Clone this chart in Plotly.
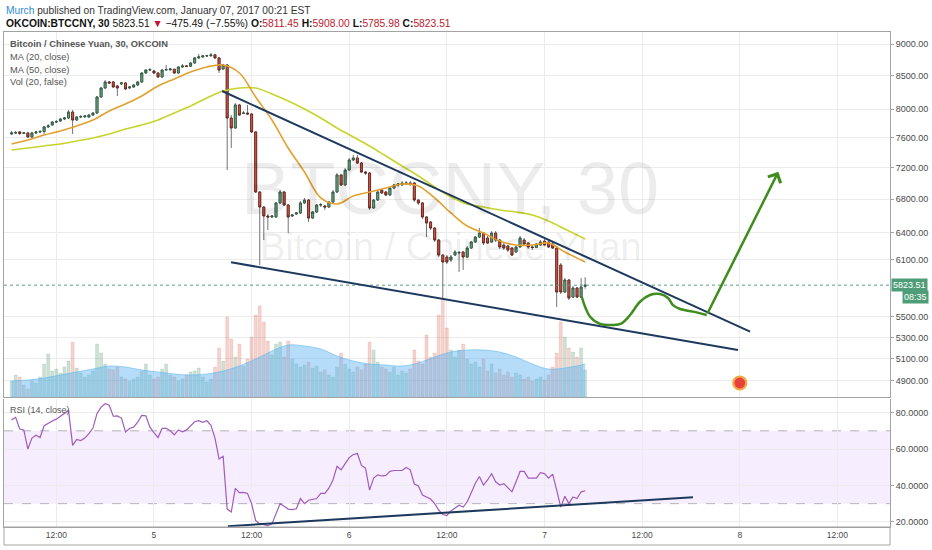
import math
import pandas as pd
import plotly.graph_objects as go

# ---------------- data ----------------
bar_start = "2017-01-04 06:30"
n_bars = 142
times = pd.date_range(bar_start, periods=n_bars, freq="30min")

opens = [7651,7665,7679,7660,7665,7610,7665,7679,7684,7748,
         7776,7818,7832,7860,7875,7960,7846,7889,7893,7889,
         7917,7946,8179,8313,8404,8404,8343,8374,8389,8313,
         8328,8358,8404,8541,8587,8572,8541,8480,8587,8592,
         8600,8541,8634,8650,8645,8697,8776,8792,8808,8812,
         8825,8776,8603,8665,7875,7734,8062,7940,7946,7932,
         7679,6890,6706,6598,6586,6586,6755,6890,6730,6598,
         6622,6634,6755,6791,6574,6646,6730,6718,6706,6767,
         6890,7105,6978,7169,7300,7326,7260,7143,7130,6694,
         6791,6915,6890,6853,6940,6978,6978,6991,7003,7003,
         6791,6755,6586,6527,6456,6318,6149,6127,6094,6149,
         6172,6183,6127,6227,6295,6352,6398,6341,6295,6398,
         6318,6261,6250,6227,6183,6239,6318,6284,6239,6234,
         6261,6306,6295,6272,6227,6039,5752,5878,5700,5794,
         5700,5811.45]
highs = [7692,7692,7692,7679,7679,7679,7692,7706,7762,7790,
         7832,7846,7875,7889,7989,7989,7903,7917,7917,7932,
         7960,8194,8328,8434,8419,8419,8358,8404,8404,8343,
         8374,8419,8556,8603,8618,8587,8556,8603,8665,8618,
         8603,8650,8681,8665,8712,8792,8840,8825,8825,8856,
         8840,8792,8681,8681,7917,8091,8077,7975,8062,7946,
         7692,6903,6718,6622,6610,6767,6915,6903,6742,6622,
         6646,6779,6816,6803,6658,6742,6755,6730,6779,6915,
         7130,7117,7195,7326,7366,7366,7273,7156,7143,6803,
         6915,6928,6903,6953,6991,7003,7028,7028,7028,7016,
         6803,6767,6598,6538,6468,6330,6160,6149,6149,6205,
         6194,6194,6250,6306,6364,6456,6410,6364,6421,6421,
         6330,6284,6261,6239,6250,6364,6341,6295,6261,6284,
         6318,6330,6318,6295,6250,6061,5899,5888,5815,5804,
         5899,5908.00]
lows = [7637,7651,7637,7651,7596,7596,7651,7665,7651,7734,
        7762,7804,7818,7846,7860,7651,7832,7875,7875,7875,
        7903,7932,8165,8298,8374,8313,8194,8358,8283,8298,
        8313,8343,8389,8526,8572,8526,8465,8465,8572,8572,
        8526,8526,8626,8634,8634,8681,8760,8776,8792,8792,
        8760,8541,8587,7169,7460,7720,7903,7932,7917,7665,
        6878,6039,6318,6433,6574,6574,6742,6718,6398,6586,
        6610,6622,6742,6527,6562,6634,6706,6670,6694,6755,
        6878,6966,6966,7156,7287,7247,7130,7105,6670,6682,
        6779,6866,6841,6841,6928,6953,6966,6978,6966,6767,
        6730,6562,6352,6433,6295,6127,5690,6050,6072,6138,
        5963,5985,6116,6216,6284,6341,6261,6272,6284,6295,
        6216,6205,6183,6138,6172,6227,6250,6216,6205,6227,
        6250,6250,6227,6216,5598,5731,5741,5669,5690,5690,
        5690,5785.98]
closes = [7665,7668,7658,7665,7610,7665,7679,7684,7748,7762,
          7818,7822,7860,7875,7960,7846,7889,7893,7903,7917,
          7946,8179,8313,8404,8389,8328,8313,8389,8298,8328,
          8358,8404,8541,8587,8592,8541,8480,8587,8595,8603,
          8541,8634,8650,8645,8697,8776,8792,8808,8812,8825,
          8776,8587,8665,7875,7734,8062,7917,7946,7932,7679,
          6890,6706,6598,6586,6598,6755,6890,6730,6586,6610,
          6634,6755,6791,6574,6646,6730,6735,6706,6767,6890,
          7105,6978,7169,7300,7326,7260,7143,7130,6694,6791,
          6890,6878,6853,6940,6978,6991,7003,7003,6991,6791,
          6755,6586,6515,6456,6318,6149,6072,6072,6127,6183,
          6178,6127,6227,6295,6352,6398,6284,6284,6398,6318,
          6239,6227,6205,6149,6239,6341,6272,6239,6234,6272,
          6295,6261,6239,6227,5752,5752,5878,5690,5794,5700,
          5804,5823.51]
volumes = [160,220,200,120,80,160,140,200,330,430,
           260,280,240,300,360,550,290,240,200,220,
           260,530,440,330,280,270,300,200,180,160,
           180,200,260,330,220,180,200,280,330,220,
           200,160,180,220,250,260,290,200,150,180,
           300,490,360,800,580,400,530,310,380,600,
           820,910,750,560,420,530,550,400,560,380,
           330,300,320,350,290,310,250,270,220,200,
           300,440,330,280,250,300,270,330,550,470,
           350,300,280,250,300,220,260,240,280,470,
           360,330,620,400,440,820,980,690,470,400,
           470,530,380,330,350,300,380,260,330,240,
           280,220,250,200,240,220,180,200,160,180,
           200,170,220,300,440,750,600,490,450,400,
           490,270]
rsi = [76,77.4,71,70.5,60,66,67.6,66.3,72.8,74.2,
       75.4,76.4,78,79.2,81.2,62,65.3,64.6,66,68.5,
       71.5,79.5,83,84.9,84,78,78.2,77,69.4,71.3,
       72,74.7,78.5,78.2,72,69,66.3,71.3,71.4,70,
       67.8,70.5,69.4,70.5,72.5,75,75.6,74.7,75.5,73,
       66,54.5,56,27,25.4,38.4,36,36.2,35.6,30,
       20.7,19,18.5,17.9,18.9,25,30,28.5,27,26.7,
       27.2,32.8,30,31.9,32.2,32.8,35.6,35.6,38.5,43,
       50.5,48.6,52,55.3,57,57.5,51,49.5,37.4,44,
       45.8,45.2,45.5,47.7,48.2,48.2,48.2,49.9,48.6,40.8,
       39.7,34.7,33.7,32.5,30,26.5,24,23.5,26,27.5,
       29.1,28.1,31,36,41.2,44.9,40.2,43,46.4,42,
       40.2,41,38.9,36.5,42,47.7,47.7,44,44,44,
       47,46.5,44,46.2,37.4,28.1,34.1,30,33.7,32.8,
       36.5,37.1]

# moving averages read every 4th bar
ma_idx = list(range(0, 141, 4)) + [141]
ma20 = [7514,7568,7637,7692,7762,7846,7975,8077,8194,8343,8450,8556,8634,8665,
        8541,8179,7846,7460,7143,6816,6742,6841,6890,6940,6991,6966,6816,6634,
        6480,6398,6306,6261,6261,6284,6183,6094,6072]
ma50 = [7433,7460,7487,7514,7555,7596,7651,7720,7776,7846,7946,8048,8165,8268,
        8313,8313,8224,8121,8004,7875,7734,7609,7487,7353,7221,7092,6953,6828,
        6742,6706,6670,6646,6610,6538,6445,6352,6330]
vol_ma = [160,170,190,220,250,280,310,300,270,250,230,220,230,260,310,380,460,520,
          510,480,410,360,330,320,310,340,400,450,470,470,450,400,330,280,290,320,330]

# drawings
upper_t = ["2017-01-05 08:22", "2017-01-08 01:16"]
upper_p = [8268, 5355]
lower_t = ["2017-01-05 09:28", "2017-01-07 23:47"]
lower_p = [6069, 5180]
rsi_tl_t = ["2017-01-05 09:05", "2017-01-07 18:15"]
rsi_tl_v = [17.6, 33.5]
path_t = ["2017-01-07 04:35", "2017-01-07 04:59", "2017-01-07 05:36", "2017-01-07 06:50",
          "2017-01-07 08:25", "2017-01-07 09:29", "2017-01-07 10:31", "2017-01-07 11:44",
          "2017-01-07 12:58", "2017-01-07 14:12", "2017-01-07 15:11", "2017-01-07 15:48",
          "2017-01-07 16:40", "2017-01-07 18:15", "2017-01-07 19:56"]
path_p = [5703, 5602, 5501, 5430, 5420, 5436, 5518, 5652, 5721, 5731, 5690, 5618, 5578, 5552, 5518]
arrow_tip_t = "2017-01-08 04:45"
arrow_tip_p = 7147
event_t = ["2017-01-08 00:00"]
event_p = [4881]

x_range = ["2017-01-04 05:34", "2017-01-08 18:28"]
price_range = [4759, 9197]
rsi_range = [17.17, 87.47]
vol_range = [0, 3650]
price_ticks = [9000, 8500, 8000, 7600, 7200, 6800, 6400, 6100, 5500, 5300, 5100, 4900]
rsi_ticks = [20, 40, 60, 80]
time_ticks = ["2017-01-04 12:00", "2017-01-05 00:00", "2017-01-05 12:00", "2017-01-06 00:00",
              "2017-01-06 12:00", "2017-01-07 00:00", "2017-01-07 12:00", "2017-01-08 00:00",
              "2017-01-08 12:00"]
time_labels = ["12:00", "5", "12:00", "6", "12:00", "7", "12:00", "8", "12:00"]

# ---------------- styling ----------------
UP, DOWN = "#6ba583", "#d75442"
UP_B, DOWN_B = "#225437", "#5b1a13"
WICK = "#737375"
GRID = "#ececec"
AXL = "#a3a3a3"
FONT = "Liberation Sans, Arial, sans-serif"
NAVY = "#1d3a5e"
GREEN = "#3f8c1f"

ma_times = [times[i] for i in ma_idx]
body_hi = [max(o, c) for o, c in zip(opens, closes)]
body_lo = [min(o, c) for o, c in zip(opens, closes)]
vol_colors = ["rgba(107,165,131,0.33)" if c >= o else "rgba(215,84,66,0.26)"
              for o, c in zip(opens, closes)]

fig = go.Figure()

# volume (base axis y, hidden)
fig.add_trace(go.Bar(x=times, y=volumes, marker=dict(color=vol_colors,
                     line=dict(width=0.6, color=vol_colors)),
                     width=30 * 60 * 1000 * 0.72, xaxis="x", yaxis="y"))
fig.add_trace(go.Scatter(x=ma_times, y=vol_ma, mode="lines", line=dict(color="rgba(90,180,240,0.55)", width=1, shape="spline"),
                         fill="tozeroy", fillcolor="rgba(90,178,242,0.45)", xaxis="x", yaxis="y"))

# candles: wicks then bodies
fig.add_trace(go.Candlestick(x=times, open=opens, high=highs, low=lows, close=closes,
                             increasing=dict(line=dict(color=WICK, width=1), fillcolor=WICK),
                             decreasing=dict(line=dict(color=WICK, width=1), fillcolor=WICK),
                             whiskerwidth=0, xaxis="x", yaxis="y3"))
fig.add_trace(go.Candlestick(x=times, open=opens, high=body_hi, low=body_lo, close=closes,
                             increasing=dict(line=dict(color=UP_B, width=0.7), fillcolor=UP),
                             decreasing=dict(line=dict(color=DOWN_B, width=0.7), fillcolor=DOWN),
                             whiskerwidth=0, xaxis="x", yaxis="y3"))

# moving averages
fig.add_trace(go.Scatter(x=ma_times, y=ma50, mode="lines", line=dict(color="#c8d42b", width=1.6, shape="spline"),
                         xaxis="x", yaxis="y3"))
fig.add_trace(go.Scatter(x=ma_times, y=ma20, mode="lines", line=dict(color="#e2a12e", width=1.6, shape="spline"),
                         xaxis="x", yaxis="y3"))

# last price dotted line
fig.add_trace(go.Scatter(x=x_range, y=[closes[-1], closes[-1]], mode="lines",
                         line=dict(color="#5a9e80", width=1, dash="dot"), xaxis="x", yaxis="y3"))

# trend lines
fig.add_trace(go.Scatter(x=upper_t, y=upper_p, mode="lines", line=dict(color=NAVY, width=2), xaxis="x", yaxis="y3"))
fig.add_trace(go.Scatter(x=lower_t, y=lower_p, mode="lines", line=dict(color=NAVY, width=2), xaxis="x", yaxis="y3"))

# projected path
fig.add_trace(go.Scatter(x=path_t, y=path_p, mode="lines", line=dict(color=GREEN, width=2.5, shape="spline"),
                         xaxis="x", yaxis="y3"))

# event marker
fig.add_trace(go.Scatter(x=event_t, y=event_p, mode="markers",
                         marker=dict(size=13, color="#e8413c", line=dict(color="#f3a847", width=2.2)),
                         xaxis="x", yaxis="y3"))

# RSI pane
fig.add_trace(go.Scatter(x=times, y=rsi, mode="lines", line=dict(color="#a05cba", width=1.2),
                         xaxis="x2", yaxis="y2"))
fig.add_trace(go.Scatter(x=rsi_tl_t, y=rsi_tl_v, mode="lines", line=dict(color=NAVY, width=2),
                         xaxis="x2", yaxis="y2"))

P_BOT, R_TOP = 0.2626, 0.2586

fig.update_layout(
    width=932, height=550, showlegend=False,
    margin=dict(l=4, r=42, t=32, b=23),
    paper_bgcolor="white", plot_bgcolor="white",
    font=dict(family=FONT, size=10, color="#4a4a4a"),
    xaxis=dict(domain=[0, 1], anchor="y", range=x_range, type="date",
               tickvals=time_ticks, showticklabels=False, ticks="",
               showgrid=True, gridcolor=GRID, gridwidth=1,
               showline=True, linecolor=AXL, mirror=True, rangeslider=dict(visible=False),
               zeroline=False),
    yaxis=dict(domain=[P_BOT, 1], anchor="x", range=vol_range, visible=False, fixedrange=True),
    yaxis3=dict(overlaying="y", anchor="x", side="right", type="log",
                range=[math.log10(price_range[0]), math.log10(price_range[1])],
                tickvals=price_ticks, ticktext=[f"{v:.2f}" for v in price_ticks],
                ticks="outside", ticklen=3, tickcolor=AXL, tickfont=dict(size=9, color="#4a4a4a"),
                showgrid=True, gridcolor=GRID, showline=True, linecolor=AXL, mirror=True,
                zeroline=False),
    xaxis2=dict(domain=[0, 1], anchor="y2", range=x_range, type="date", matches="x",
                tickvals=time_ticks, ticktext=time_labels, ticks="",
                tickfont=dict(size=8.5, color="#4a4a4a"),
                showgrid=True, gridcolor=GRID, showline=True, linecolor=AXL, mirror=False,
                rangeslider=dict(visible=False), zeroline=False),
    yaxis2=dict(domain=[0, R_TOP], anchor="x2", side="right", range=rsi_range,
                tickvals=rsi_ticks, ticktext=[f"{v:.4f}" for v in rsi_ticks],
                ticks="outside", ticklen=3, tickcolor=AXL, tickfont=dict(size=9, color="#4a4a4a"),
                showgrid=True, gridcolor=GRID, showline=True, linecolor=AXL, mirror=True,
                zeroline=False),
)

# RSI band and levels
fig.add_shape(type="rect", xref="x2 domain", yref="y2", x0=0, x1=1, y0=30, y1=70,
              fillcolor="rgba(160,60,255,0.09)", line=dict(width=0), layer="below")
for lvl in (30, 70):
    fig.add_shape(type="line", xref="x2 domain", yref="y2", x0=0, x1=1, y0=lvl, y1=lvl,
                  line=dict(color="#b4b4b4", width=1, dash="dash"), layer="below")

# time axis frame
fig.add_shape(type="rect", xref="paper", yref="paper", x0=0, x1=1, y0=-0.0364, y1=0,
              line=dict(color=AXL, width=1))

ann = []
# header
ann.append(dict(xref="paper", yref="paper", x=0.0, y=1.0435, xanchor="left", yanchor="middle", xshift=0,
                text="<span style='color:#2e8bd3'>Murch</span> published on TradingView.com, January 07, 2017 00:21 EST",
                showarrow=False, font=dict(size=10.2, color="#333333")))
ann.append(dict(xref="paper", yref="paper", x=0.0, y=1.0165, xanchor="left", yanchor="middle", xshift=0,
                text=("<b>OKCOIN:BTCCNY, 30</b> 5823.51 <span style='color:#c8102e'>▼</span> −475.49 (−7.55%) "
                      "<b>O:</b><span style='color:#c0182e'>5811.45</span> <b>H:</b><span style='color:#c0182e'>5908.00</span> "
                      "<b>L:</b><span style='color:#c0182e'>5785.98</span> <b>C:</b><span style='color:#c0182e'>5823.51</span>"),
                showarrow=False, font=dict(size=10.3, color="#111111")))
# legend labels
legend_lines = [("<b>Bitcoin / Chinese Yuan, 30, OKCOIN</b>", 0.9758),
                ("MA (20, close)", 0.9495), ("MA (50, close)", 0.9232), ("Vol (20, false)", 0.8990)]
for txt, yy in legend_lines:
    ann.append(dict(xref="paper", yref="paper", x=0.0068, y=yy, xanchor="left", yanchor="middle", xshift=-2,
                    text=txt, showarrow=False, font=dict(size=9.3, color="#555555")))
ann.append(dict(xref="paper", yref="paper", x=0.0068, y=0.2364, xanchor="left", yanchor="middle", xshift=-2,
                text="RSI (14, close)", showarrow=False, font=dict(size=9, color="#555555")))
# watermark
ann.append(dict(xref="paper", yref="paper", x=0.5034, y=0.6848, xanchor="center", yanchor="middle",
                text="BTCCNY, 30", showarrow=False, font=dict(size=74, color="rgba(0,0,0,0.075)")))
ann.append(dict(xref="paper", yref="paper", x=0.5045, y=0.5657, xanchor="center", yanchor="middle",
                text="Bitcoin / Chinese Yuan", showarrow=False, font=dict(size=38, color="rgba(0,0,0,0.075)")))
# price label & countdown
ann.append(dict(xref="paper", yref="y3", x=1.0, y=math.log10(closes[-1]), xanchor="left", yanchor="middle",
                xshift=1, text=f"{closes[-1]:.2f}", showarrow=False, bgcolor="#4f9d78",
                font=dict(size=9, color="white"), borderpad=1))
ann.append(dict(xref="paper", yref="y3", x=1.0, y=math.log10(closes[-1]), xanchor="left", yanchor="middle",
                xshift=12, yshift=-12, text="08:35", showarrow=False, bgcolor="#4f9d78",
                font=dict(size=9, color="white"), borderpad=1))
# arrow of projected path
ann.append(dict(xref="x", yref="y3", x=arrow_tip_t, y=math.log10(arrow_tip_p),
                axref="x", ayref="y3", ax=path_t[-1], ay=math.log10(path_p[-1]),
                showarrow=True, arrowhead=4, arrowsize=1.1, arrowwidth=2.5, arrowcolor=GREEN, text=""))
fig.update_layout(annotations=ann)

fig.write_html("out.html", config={"displayModeBar": False},
               post_script="document.body.style.margin='0';document.body.style.overflow='hidden';")
